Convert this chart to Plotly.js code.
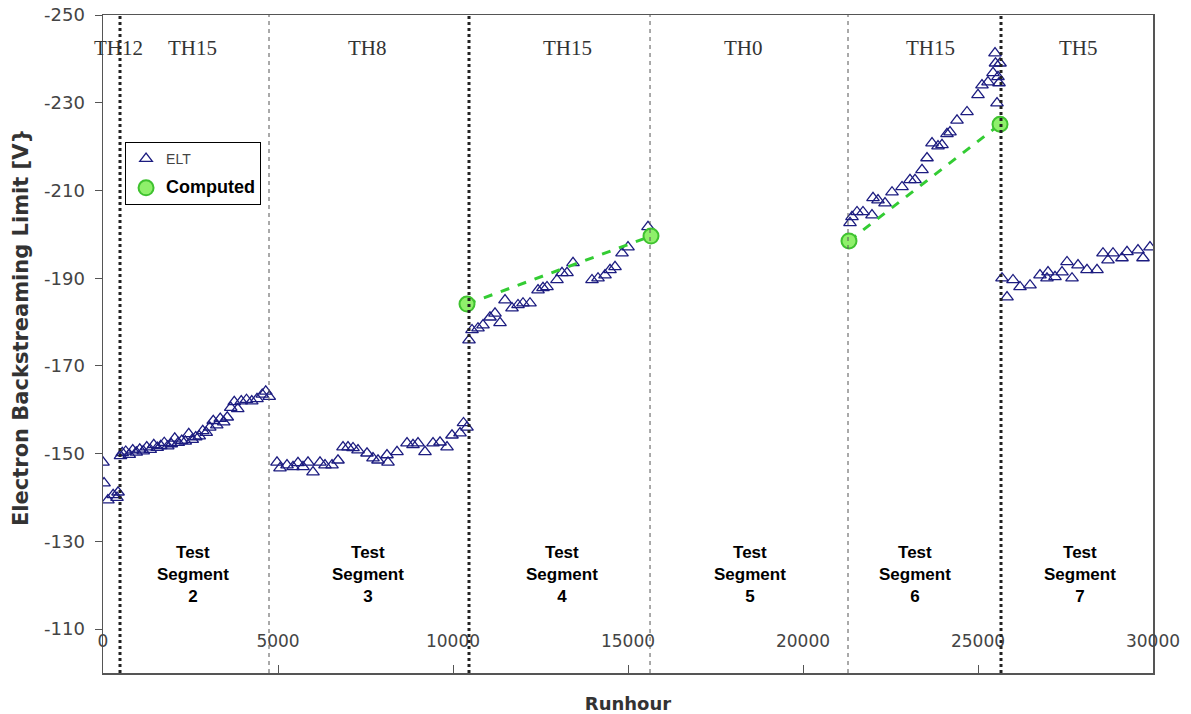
<!DOCTYPE html>
<html>
<head>
<meta charset="utf-8">
<script src="https://cdn.plot.ly/plotly-3.0.1.min.js"></script>
<style>html,body{margin:0;padding:0;background:#fff;}#chart{width:1191px;height:714px;}</style>
</head>
<body>
<div id="chart"></div>
<script>
// ELT measurements: runhour and electron backstreaming limit [V]
const eltRun = [
  0, 30, 140, 290, 400, 430,
  500, 550, 650, 750, 850, 950, 1050, 1150, 1250, 1350, 1450, 1550, 1650, 1750, 1850, 1950,
  2050, 2150, 2250, 2350, 2450, 2550, 2650, 2750, 2850, 2950, 3050, 3150, 3250, 3350, 3450,
  3550, 3650, 3750, 3850, 3950, 4100, 4250, 4400, 4550, 4650, 4750,
  4971, 5057, 5257, 5429, 5571, 5714, 5857, 6000, 6200, 6343, 6543, 6714, 6857, 7000, 7143,
  7286, 7543, 7714, 7857, 8114, 8143, 8400, 8686, 8857, 9000, 9200, 9429, 9629, 9829, 9971,
  10200, 10300, 10400,
  10457, 10543, 10714, 10857, 11057, 11200, 11343, 11486, 11686, 11857, 12000, 12200, 12429,
  12571, 12686, 12971, 13114, 13257, 13429, 13971, 14143, 14343, 14486, 14629, 14829, 15000, 15571,
  21343, 21400, 21543, 21714, 21971, 22000, 22143, 22343, 22543, 22829, 23057, 23200, 23400,
  23543, 23686, 23857, 23971, 24114, 24200, 24400, 24686, 25000, 25114, 25286, 25429, 25486,
  25500, 25543, 25571, 25600, 25629,
  25686, 25829, 26000, 26200, 26486, 26771, 26971, 27000, 27200, 27400, 27543, 27686, 27857,
  28114, 28400, 28571, 28714, 28857, 29114, 29257, 29571, 29714, 29914
];
const eltValue = [
  -148.0, -143.3, -139.4, -140.6, -140.0, -141.2,
  -149.5, -150.2, -150.5, -149.8, -150.8, -150.3, -151.0, -150.6, -151.5, -150.9, -152.0, -151.4, -151.8, -152.5, -151.7, -152.2,
  -153.5, -152.5, -153.0, -152.8, -154.5, -153.2, -153.8, -154.0, -155.2, -154.8, -156.0, -157.5, -156.5, -158.0, -157.2,
  -158.3, -160.5, -161.8, -160.2, -162.0, -162.3, -162.0, -162.5, -163.5, -164.2, -163.0,
  -148.0, -146.7, -147.4, -147.0, -147.9, -147.0, -148.0, -145.8, -148.0, -147.4, -147.4, -148.5, -151.5, -151.5, -151.3,
  -150.8, -150.1, -149.0, -148.5, -149.7, -148.0, -150.4, -152.4, -152.0, -152.4, -150.4, -152.4, -152.6, -151.5, -154.2,
  -154.7, -157.0, -156.0,
  -175.9, -178.2, -178.6, -179.3, -181.1, -182.0, -179.8, -185.0, -183.2, -183.9, -184.3, -184.3, -187.3,
  -187.8, -188.0, -189.6, -191.2, -191.2, -193.5, -189.6, -190.0, -190.7, -191.9, -192.6, -195.7, -197.1, -201.7,
  -202.6, -204.0, -205.1, -205.1, -204.4, -208.3, -207.8, -207.1, -209.6, -210.8, -212.4, -212.4, -214.7,
  -217.4, -220.8, -220.1, -220.4, -222.9, -223.3, -226.0, -227.9, -231.8, -234.0, -234.7, -236.8, -241.3,
  -239.0, -229.9, -235.9, -234.5, -239.0,
  -190.0, -185.7, -189.6, -188.0, -188.4, -190.7, -190.0, -191.4, -190.3, -191.4, -193.7, -190.0, -193.0,
  -191.9, -191.9, -195.7, -194.1, -195.7, -194.6, -196.0, -196.4, -194.6, -197.1
];
// Computed values (two segments)
const compRun = [10400, 15657, null, 21314, 25629];
const compValue = [-184.1, -199.6, null, -198.5, -225.1];

// Test segment boundaries (runhour) and styles
const boundaryRun = [486, 4743, 10457, 15629, 21286, 25657];
const boundaryHeavy = [true, false, true, false, false, true];

// Throttle labels
const thLabels = ['TH12', 'TH15', 'TH8', 'TH15', 'TH0', 'TH15', 'TH5'];
const thRun = [429, 2571, 7571, 13257, 18286, 23629, 27857];

// Test segment labels
const segLabels = ['2', '3', '4', '5', '6', '7'];
const segRun = [2571, 7571, 13114, 18486, 23200, 27914];

const xTicks = [0, 5000, 10000, 15000, 20000, 25000, 30000];
const yTicks = [-250, -230, -210, -190, -170, -150, -130, -110];

const shapes = boundaryRun.map((r, i) => ({
  type: 'line', xref: 'x', yref: 'paper', x0: r, x1: r, y0: 0, y1: 1,
  line: boundaryHeavy[i] ? {color: '#222', width: 3, dash: 'dot'} : {color: '#555', width: 1, dash: '4px,4px'}
}));

const annotations = [];
thLabels.forEach((t, i) => annotations.push({
  x: thRun[i], y: -242.5, xref: 'x', yref: 'y', text: t, showarrow: false,
  font: {family: 'Liberation Serif, Times New Roman, serif', size: 21, color: '#333'}
}));
segLabels.forEach((s, i) => annotations.push({
  x: segRun[i], y: -122.5, xref: 'x', yref: 'y', text: '<b>Test<br>Segment<br>' + s + '</b>', showarrow: false,
  font: {family: 'Liberation Sans, Arial, sans-serif', size: 17, color: '#000'}
}));

const traces = [
  {
    x: eltRun, y: eltValue, type: 'scatter', mode: 'markers', name: 'ELT', legendgroup: 'g1',
    marker: {symbol: 'triangle-up-open', size: 11, color: '#1c1c80', line: {width: 1.3}}
  },
  {
    x: compRun, y: compValue, type: 'scatter', mode: 'lines', showlegend: false, legendgroup: 'g2',
    line: {color: '#33cc33', width: 3, dash: 'dash'}, connectgaps: false
  },
  {
    x: compRun, y: compValue, type: 'scatter', mode: 'markers', legendgroup: 'g2',
    name: '<span style="font-size:18px;color:#000"><b>Computed</b></span>',
    marker: {symbol: 'circle', size: 15, color: '#8ff06b', line: {color: '#3fc22f', width: 2}}
  }
];

const layout = {
  width: 1191, height: 714,
  margin: {l: 103, r: 38, t: 15, b: 41},
  paper_bgcolor: '#fff', plot_bgcolor: '#fff',
  font: {family: 'Liberation Sans, Arial, sans-serif', size: 16, color: '#444'},
  showlegend: true,
  legend: {
    x: 0.021, y: 0.807, xanchor: 'left', yanchor: 'top',
    bgcolor: '#fff', bordercolor: '#000', borderwidth: 1,
    font: {size: 14, color: '#444'}, itemwidth: 30, tracegroupgap: 8
  },
  xaxis: {
    range: [0, 30000], tickvals: xTicks, ticktext: xTicks.map(String),
    showgrid: false, zeroline: false, showline: true, linecolor: '#555', linewidth: 1.5, mirror: true,
    ticks: 'inside', ticklen: 8, tickcolor: '#555',
    ticklabelposition: 'inside', ticklabelstandoff: 15, ticklabeloverflow: 'allow',
    tickfont: {family: 'DejaVu Sans, sans-serif', size: 17, color: '#444'},
    title: {text: '<b>Runhour</b>', font: {family: 'DejaVu Sans, sans-serif', size: 18, color: '#333'}, standoff: 50},
    automargin: false
  },
  yaxis: {
    range: [-100, -250], tickvals: yTicks, ticktext: yTicks.map(String),
    showgrid: false, zeroline: false, showline: true, linecolor: '#555', linewidth: 1.5, mirror: true,
    ticks: 'outside', ticklen: 7, tickcolor: '#555', ticklabelstandoff: 6,
    tickfont: {family: 'DejaVu Sans, sans-serif', size: 18, color: '#444'},
    title: {text: '&nbsp;&nbsp;&nbsp;&nbsp;&nbsp;<b>Electron Backstreaming Limit [V}</b>', font: {family: 'DejaVu Sans, sans-serif', size: 21, color: '#333'}, standoff: 9},
    automargin: false
  },
  shapes: shapes,
  annotations: annotations
};

Plotly.newPlot('chart', traces, layout, {displayModeBar: false, staticPlot: true});
</script>
</body>
</html>
